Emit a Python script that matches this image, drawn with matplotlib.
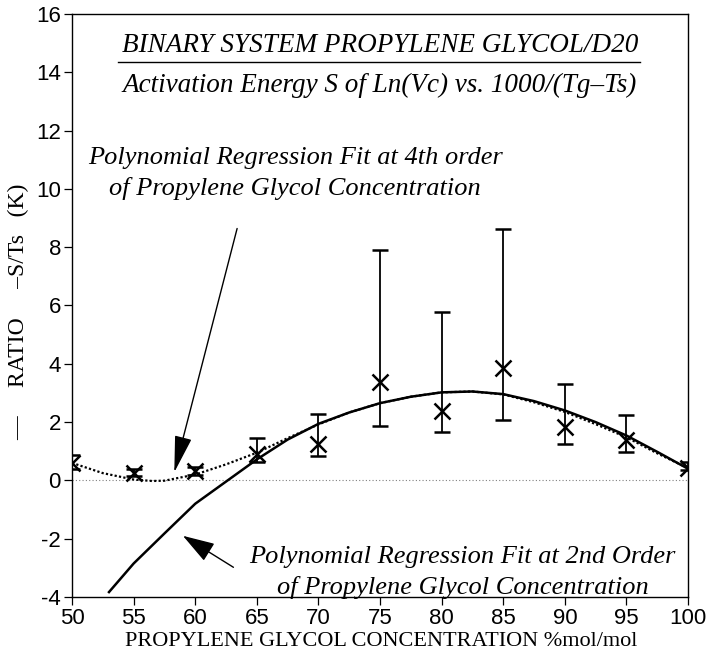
import matplotlib.pyplot as plt
from matplotlib.lines import Line2D

conc = [50, 55, 60, 65, 70, 75, 80, 85, 90, 95, 100]
ratio = [0.58, 0.27, 0.32, 0.89, 1.26, 3.37, 2.38, 3.84, 1.83, 1.37, 0.43]
err_low = [0.40, 0.15, 0.18, 0.62, 0.85, 1.85, 1.67, 2.08, 1.26, 0.97, 0.34]
err_high = [0.88, 0.40, 0.46, 1.46, 2.29, 7.89, 5.76, 8.61, 3.32, 2.26, 0.62]

# 2nd order fit curve
fit2_x = [53, 55, 57.5, 60, 62.5, 65, 67.5, 70, 72.5, 75, 77.5, 80, 82.5, 85, 87.5, 90, 92.5, 95, 97.5, 100]
fit2_y = [-3.83, -2.85, -1.82, -0.80, -0.04, 0.72, 1.40, 1.94, 2.33, 2.65, 2.87, 3.02, 3.05, 2.96, 2.72, 2.40, 2.00, 1.54, 0.98, 0.40]

# 4th order fit curve
fit4_x = [50, 52.5, 55, 56.5, 57.5, 60, 62.5, 65, 67.5, 70, 72.5, 75, 77.5, 80, 82.5, 85, 87.5, 90, 92.5, 95, 97.5, 100]
fit4_y = [0.60, 0.25, 0.03, -0.02, -0.01, 0.20, 0.55, 0.95, 1.45, 1.92, 2.33, 2.65, 2.87, 3.02, 3.05, 2.95, 2.68, 2.35, 1.93, 1.48, 0.93, 0.42]

plt.rcParams['font.family'] = 'Liberation Sans'
plt.rcParams['axes.unicode_minus'] = False

fig = plt.figure(figsize=(7.09, 6.63), dpi=100)
ax = fig.add_axes([0.1016, 0.0995, 0.8688, 0.8795])

ax.axhline(0, color='gray', linestyle=(0, (1, 2)), linewidth=0.8)
ax.plot(fit4_x, fit4_y, color='black', linestyle=(0, (1, 1)), linewidth=1.6)
ax.plot(fit2_x, fit2_y, color='black', linewidth=1.8)

yerr = [[r - lo for r, lo in zip(ratio, err_low)], [hi - r for r, hi in zip(ratio, err_high)]]
ax.errorbar(conc, ratio, yerr=yerr, fmt='x', color='black', markersize=11,
            markeredgewidth=1.8, elinewidth=1.3, capsize=6, capthick=1.8)

ax.set_xlim(50, 100)
ax.set_ylim(-4, 16)
ax.set_xticks(range(50, 101, 5))
ax.set_yticks(range(-4, 17, 2))
ax.tick_params(direction='out', length=6, width=0.9, labelsize=16, pad=2)
for s in ax.spines.values():
    s.set_linewidth(1.0)

serif = 'Liberation Serif'
fig.text(381 / 709, 1 - 641 / 663, 'PROPYLENE GLYCOL CONCENTRATION %mol/mol',
         ha='center', va='center', family=serif, fontsize=16)
fig.text(19 / 709, 1 - 312 / 663, '\u2014     RATIO     \u2013S/Ts   (K)',
         ha='center', va='center', rotation=90, family=serif, fontsize=17)

# title block inside the axes
ax.text(0.5, 0.945, 'BINARY SYSTEM PROPYLENE GLYCOL/D20', transform=ax.transAxes,
        ha='center', va='center', family=serif, style='italic', fontsize=19.5)
fig.add_artist(Line2D([118 / 709, 640 / 709], [1 - 62 / 663, 1 - 62 / 663],
                      color='black', linewidth=1.0))
ax.text(0.5, 0.878, 'Activation Energy S of Ln(Vc) vs. 1000/(Tg\u2013Ts)', transform=ax.transAxes,
        ha='center', va='center', family=serif, style='italic', fontsize=19.5)

# fit labels with arrows
ax.text(68.1, 10.53, 'Polynomial Regression Fit at 4th order\nof Propylene Glycol Concentration',
        ha='center', va='center', family=serif, style='italic', fontsize=19, linespacing=1.45)
ax.annotate('', xy=(58.3, 0.28), xytext=(63.4, 8.64),
            arrowprops=dict(arrowstyle='-|>,head_length=1.15,head_width=0.27',
                            mutation_scale=20, color='black', lw=1.0, shrinkA=0, shrinkB=0))

ax.text(81.7, -3.16, 'Polynomial Regression Fit at 2nd Order\nof Propylene Glycol Concentration',
        ha='center', va='center', family=serif, style='italic', fontsize=19, linespacing=1.45)
ax.annotate('', xy=(59.0, -1.90), xytext=(63.1, -2.98),
            arrowprops=dict(arrowstyle='-|>,head_length=1.0,head_width=0.32',
                            mutation_scale=20, color='black', lw=1.0, shrinkA=0, shrinkB=0))

fig.savefig('out.png', dpi=100)
